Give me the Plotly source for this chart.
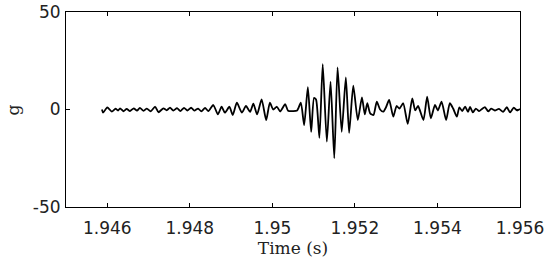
import plotly.graph_objects as go

# acceleration trace
time_s = [
    1.94587, 1.94590, 1.94600, 1.94611, 1.94620, 1.94626, 1.94631, 1.94639, 1.94647, 1.94655,
    1.94664, 1.94672, 1.94679, 1.94688, 1.94696, 1.94705, 1.94716, 1.94724, 1.94736, 1.94744,
    1.94752, 1.94760, 1.94769, 1.94777, 1.94786, 1.94794, 1.94803, 1.94811, 1.94820, 1.94828,
    1.94837, 1.94845, 1.94857, 1.94868, 1.94877, 1.94885, 1.94896, 1.94904, 1.94914, 1.94926,
    1.94936, 1.94946, 1.94954, 1.94963, 1.94974, 1.94985, 1.94994, 1.95002, 1.95011, 1.95019,
    1.95031, 1.95038, 1.95050, 1.95060, 1.95069, 1.95077, 1.95086, 1.95094, 1.95101, 1.95106,
    1.95114, 1.95122, 1.95132, 1.95141, 1.95150, 1.95158, 1.95168, 1.95178, 1.95186, 1.95196,
    1.95207, 1.95217, 1.95224, 1.95230, 1.95237, 1.95245, 1.95253, 1.95261, 1.95269, 1.95275,
    1.95283, 1.95293, 1.95301, 1.95308, 1.95317, 1.95328, 1.95339, 1.95346, 1.95353, 1.95366,
    1.95375, 1.95384, 1.95394, 1.95401, 1.95410, 1.95421, 1.95430, 1.95438, 1.95447, 1.95453,
    1.95460, 1.95467, 1.95474, 1.95479, 1.95486, 1.95493, 1.95501, 1.95508, 1.95515, 1.95523,
    1.95530, 1.95539, 1.95549, 1.95559, 1.95568, 1.95576, 1.95585, 1.95593, 1.95600,
]
accel_g = [
    0.0, -1.6, 1.1, -1.1, 0.4, -0.5, 0.6, -0.9, 0.3, -0.8,
    0.6, -0.6, 0.8, -0.7, 0.5, -0.9, 1.4, -1.4, 0.6, -0.4,
    0.9, -0.6, 0.7, -0.8, 0.8, -0.5, 0.9, -0.6, 0.5, -1.0,
    0.8, -0.8, 2.3, -2.5, 1.4, -1.6, 1.4, -2.8, 3.5, -1.6,
    1.8, -1.2, 3.0, -2.5, 5.2, -5.4, 3.5, 0.0, 1.4, -1.0,
    2.7, -0.6, -0.8, -0.5, 3.5, -8.0, 11.5, -11.5, 6.0, 5.0,
    -14.6, 23.3, -16.5, 14.3, -25.0, 21.6, -11.4, 16.5, -12.0, 12.2,
    -5.4, 6.2, -2.5, 3.2, -2.0, -2.8, 4.0, 0.0, -1.1, 1.0,
    4.9, -3.7, 1.8, 0.5, 3.2, -7.4, 5.7, -0.5, 1.8, -5.4,
    6.6, -4.5, 2.3, -0.5, 4.0, -5.4, 3.2, 0.5, -3.7, 1.1,
    -0.8, 1.5, -1.2, 1.3, -1.5, 0.5, -0.8, 0.3, 1.2, -1.0,
    0.4, -0.5, 0.3, -1.2, 1.2, -1.5, 1.0, -0.5, 0.3,
]

x_ticks = [1.946, 1.948, 1.95, 1.952, 1.954, 1.956]
x_labels = ["1.946", "1.948", "1.95", "1.952", "1.954", "1.956"]
y_ticks = [-50, 0, 50]
y_labels = ["-50", "0", "50"]

fig = go.Figure()
fig.add_trace(go.Scatter(x=time_s, y=accel_g, mode="lines",
                         line=dict(color="black", width=1.8, shape="spline", smoothing=0.6),
                         showlegend=False))

tick_font = dict(family="DejaVu Sans", size=17, color="#222")
title_font = dict(family="DejaVu Serif", size=17, color="#222")
axis_style = dict(showline=True, linecolor="black", linewidth=1, mirror="ticks",
                  ticks="inside", ticklen=4, tickcolor="black", showgrid=False,
                  zeroline=False, tickfont=tick_font, automargin=False)

fig.update_xaxes(range=[1.945, 1.956], tickvals=x_ticks, ticktext=x_labels,
                 ticklabelstandoff=6,
                 title=dict(text="Time (s)", font=title_font, standoff=1),
                 **axis_style)
fig.update_yaxes(range=[-50, 50], tickvals=y_ticks, ticktext=y_labels,
                 ticklabelstandoff=1, **axis_style)

# y label sits further left than plotly's title would go
fig.add_annotation(text="g", xref="paper", yref="paper", x=-0.117, y=0.5,
                   xanchor="center", yanchor="middle", textangle=-90,
                   showarrow=False, font=title_font)

fig.update_layout(width=550, height=265, margin=dict(l=66, r=30, t=12, b=58),
                  plot_bgcolor="white", paper_bgcolor="white")

# drop the default page margin so the figure fills the window
fig.write_html("out.html", config={"displayModeBar": False},
               post_script="document.body.style.margin='0';")
